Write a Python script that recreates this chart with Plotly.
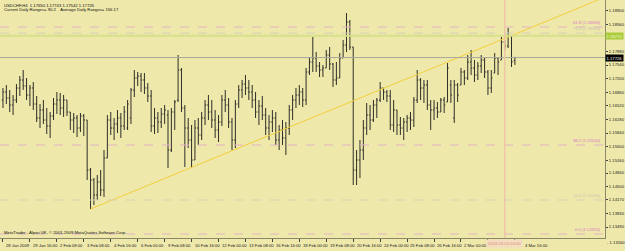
import plotly.graph_objects as go

# ---------------- data (USDCHF, H4) ----------------
high = [1.16965,1.17040,1.16915,1.16790,1.17065,1.17265,1.17415,1.17215,1.17040,1.17115,
        1.16765,1.16565,1.16665,1.16465,1.16365,1.16715,1.16865,1.16840,1.16790,1.16665,
        1.16365,1.16340,1.16290,1.16340,1.16315,1.16165,1.14965,1.14715,1.14790,1.14915,
        1.15415,1.16290,1.16365,1.16215,1.16415,1.16340,1.16515,1.16665,1.16965,1.17415,
        1.17365,1.17340,1.17340,1.17090,1.16915,1.16465,1.16365,1.16465,1.16540,1.16415,
        1.16465,1.16665,1.17790,1.17465,1.16540,1.16215,1.16040,1.16165,1.16215,1.16365,
        1.16665,1.16790,1.16665,1.16415,1.16290,1.16790,1.16915,1.16715,1.16215,1.16665,
        1.17040,1.17165,1.17290,1.17165,1.17040,1.16865,1.16665,1.16765,1.16465,1.16290,
        1.16415,1.16365,1.16040,1.16165,1.16115,1.16540,1.16790,1.16965,1.17040,1.16965,
        1.17465,1.17740,1.18240,1.17865,1.17615,1.17540,1.17915,1.17990,1.17590,1.17615,
        1.17840,1.18165,1.18840,1.18665,1.17990,1.15415,1.15665,1.16165,1.16590,1.16540,
        1.16665,1.16715,1.17115,1.16965,1.16915,1.16915,1.16665,1.16415,1.16240,1.16215,
        1.16290,1.16365,1.16740,1.17415,1.17215,1.17165,1.17165,1.16665,1.16665,1.16615,
        1.16715,1.16740,1.17590,1.17165,1.17165,1.17090,1.17465,1.17415,1.17790,1.17915,
        1.17665,1.17615,1.17790,1.17715,1.17415,1.17415,1.17840,1.17740,1.18240,1.18165,
        1.18465,1.18290,1.17743]
low = [1.16465,1.16565,1.16365,1.16290,1.16590,1.16765,1.16915,1.16665,1.16515,1.16415,
       1.16115,1.15965,1.16065,1.15815,1.15715,1.16165,1.16315,1.16290,1.16240,1.16265,
       1.15915,1.15840,1.15740,1.15865,1.15765,1.14665,1.13940,1.14040,1.14165,1.14265,
       1.14240,1.15215,1.15790,1.15665,1.15840,1.15715,1.15915,1.15915,1.16065,1.16740,
       1.17015,1.16865,1.16815,1.16615,1.15865,1.15815,1.15840,1.15965,1.16065,1.14965,
       1.15365,1.15915,1.16615,1.16365,1.14990,1.15465,1.14965,1.15165,1.15540,1.15665,
       1.16040,1.16165,1.15965,1.15715,1.15615,1.16015,1.16365,1.15965,1.15415,1.15465,
       1.16465,1.16715,1.16790,1.16665,1.16465,1.16215,1.16040,1.16165,1.15790,1.15665,
       1.15865,1.15540,1.15415,1.15540,1.15290,1.15790,1.16165,1.16465,1.16540,1.16490,
       1.16540,1.17290,1.17365,1.17365,1.17240,1.17240,1.17465,1.17415,1.16990,1.17040,
       1.17215,1.17715,1.17865,1.17915,1.14540,1.14540,1.14715,1.15165,1.15790,1.15915,
       1.16115,1.16215,1.16615,1.16665,1.16615,1.15915,1.15865,1.15790,1.15790,1.15665,
       1.15865,1.15915,1.15990,1.16590,1.16665,1.16590,1.16415,1.15915,1.16165,1.16215,
       1.16365,1.16340,1.16615,1.16590,1.16090,1.16615,1.17040,1.17040,1.17165,1.17290,
       1.17115,1.17165,1.17340,1.17215,1.16790,1.16840,1.17340,1.17290,1.17665,1.17915,
       1.17965,1.17490,1.17542]
open_ = [1.16665,1.16865,1.16715,1.16540,1.16665,1.16965,1.17165,1.17015,1.16790,1.16965,
         1.16565,1.16215,1.16415,1.16165,1.16015,1.16265,1.16565,1.16665,1.16465,1.16665,
         1.16365,1.16165,1.16215,1.15965,1.16265,1.16165,1.14915,1.14665,1.14290,1.14615,
         1.14415,1.15215,1.16165,1.15965,1.16065,1.16215,1.16015,1.15965,1.16215,1.16915,
         1.17215,1.17265,1.17165,1.16965,1.16765,1.16015,1.16215,1.16115,1.16315,1.16290,
         1.15415,1.16365,1.16665,1.17415,1.16465,1.15965,1.15665,1.15165,1.15965,1.15790,
         1.16215,1.16540,1.16365,1.16165,1.15915,1.16115,1.16665,1.16540,1.16115,1.15665,
         1.16565,1.16915,1.17065,1.16965,1.16865,1.16665,1.16365,1.16515,1.16290,1.15965,
         1.16115,1.16215,1.15665,1.15915,1.15715,1.15965,1.16415,1.16665,1.16790,1.16865,
         1.16665,1.17365,1.17615,1.17715,1.17515,1.17415,1.17465,1.17790,1.17565,1.17165,
         1.17215,1.17715,1.18040,1.18615,1.17990,1.14915,1.15165,1.15415,1.15965,1.16290,
         1.16165,1.16540,1.16665,1.16965,1.16865,1.16765,1.16040,1.16415,1.16040,1.15965,
         1.16115,1.16215,1.16165,1.16665,1.17165,1.16965,1.17040,1.16540,1.16415,1.16465,
         1.16365,1.16665,1.16615,1.17040,1.16215,1.17040,1.17040,1.17365,1.17215,1.17615,
         1.17465,1.17290,1.17515,1.17665,1.17365,1.16965,1.17340,1.17715,1.17665,1.18115,
         1.18015,1.18265,1.17650]
close = [1.16865,1.16715,1.16540,1.16665,1.16965,1.17165,1.17015,1.16790,1.16965,1.16565,
         1.16215,1.16415,1.16165,1.16015,1.16265,1.16565,1.16665,1.16465,1.16665,1.16365,
         1.16165,1.16215,1.15965,1.16265,1.16165,1.14915,1.14665,1.14290,1.14615,1.14415,
         1.15215,1.16165,1.15965,1.16065,1.16215,1.16015,1.16365,1.16565,1.16915,1.17215,
         1.17265,1.17165,1.16965,1.16765,1.16015,1.16215,1.16115,1.16315,1.16415,1.15415,
         1.16365,1.16615,1.17415,1.16465,1.15965,1.15665,1.15165,1.15965,1.15790,1.16215,
         1.16540,1.16365,1.16165,1.15915,1.16115,1.16665,1.16540,1.16115,1.15665,1.16565,
         1.16915,1.17065,1.16965,1.16865,1.16665,1.16365,1.16515,1.16290,1.15965,1.16115,
         1.16215,1.15665,1.15915,1.15715,1.15965,1.16415,1.16665,1.16790,1.16865,1.16665,
         1.17365,1.17615,1.17715,1.17515,1.17415,1.17465,1.17790,1.17565,1.17165,1.17215,
         1.17715,1.18040,1.18615,1.17990,1.14915,1.15165,1.15415,1.15965,1.16290,1.16165,
         1.16540,1.16665,1.16965,1.16865,1.16765,1.16040,1.16415,1.16040,1.15965,1.16115,
         1.16215,1.16165,1.16665,1.17165,1.16965,1.17040,1.16540,1.16415,1.16465,1.16365,
         1.16665,1.16540,1.17465,1.16790,1.17040,1.16790,1.17365,1.17215,1.17615,1.17465,
         1.17290,1.17515,1.17665,1.17365,1.16965,1.17215,1.17715,1.17615,1.18115,1.18015,
         1.18265,1.17615,1.17726]

date_labels = ["28 Jan 2009", "29 Jan 16:00", "2 Feb 08:00", "3 Feb 08:00", "4 Feb 16:00",
               "6 Feb 00:00", "9 Feb 08:00", "10 Feb 16:00", "12 Feb 00:00", "13 Feb 08:00",
               "16 Feb 16:00", "18 Feb 00:00", "19 Feb 08:00", "20 Feb 16:00", "24 Feb 00:00",
               "25 Feb 08:00", "26 Feb 16:00", "2 Mar 00:00", "3 Mar 08:00", "4 Mar 16:00"]
bars_per_label = 8

price_ticks = [1.18900, 1.18560, 1.17880, 1.17540, 1.17200, 1.16860, 1.16520, 1.16180,
               1.15840, 1.15500, 1.15160, 1.14840, 1.14500, 1.14170, 1.13830, 1.13490]
price_tick_text = ["1.18900", "1.18560", "1.17880", "1.17540", "1.17200", "1.16860",
                   "1.16520", "1.16180", "1.15840", "1.15500", "1.15160", "1.14840", "1.14500",
                   "1.14170", "1.13830", "1.13490"]

fibo_levels = [1.18490, 1.15540, 1.13315]
fibo_texts = ["61.8 (1.18490)", "38.2 (1.15540)", "0.0 (1.13315)"]
faint_levels = [1.18340, 1.14165]
faint_texts = ["76.4 (1.18340)", "23.6 (1.14165)"]
green_level = 1.18270
current_price = 1.17726

trend_bars = [26, 150]
trend_prices = [1.13940, 1.18240]
vline_bar = 149
vline_text = "2009.03.04 04:00"

header1 = "USDCHF,H4  1.17650 1.17743 1.17542 1.17726"
header2 = "Current Daily Ranges= 90.2    Average Daily Ranges= 156.17"
footer = "MetaTrader - Alpari UK, \u00a9 2001-2009 MetaQuotes Software Corp."

# ---------------- styling ----------------
BG = "#EEE8AA"
BAR = "#2f2f29"
AXIS = "#8a8866"
FONT = "Liberation Sans"
FS = 4.2
n = len(high)
xs = list(range(n))
x_range = [-0.885, 178.76]
y_range = [1.13215, 1.19165]
box_half = 5.2   # half width of the vertical-line date box, in bars

fig = go.Figure()
fig.add_trace(go.Ohlc(
    x=xs, open=open_, high=high, low=low, close=close,
    increasing=dict(line=dict(color=BAR, width=1)),
    decreasing=dict(line=dict(color=BAR, width=1)),
    tickwidth=0.35, hoverinfo="skip", showlegend=False))

# trend line (ray to right edge)
slope = (trend_prices[1] - trend_prices[0]) / (trend_bars[1] - trend_bars[0])
x_end = x_range[1] + 1
fig.add_trace(go.Scatter(
    x=[trend_bars[0], x_end],
    y=[trend_prices[0], trend_prices[0] + slope * (x_end - trend_bars[0])],
    mode="lines", line=dict(color="#F2CF3C", width=1), hoverinfo="skip", showlegend=False))

shapes = []
annotations = []
for lv, tx in zip(faint_levels, faint_texts):
    shapes.append(dict(type="line", xref="paper", yref="y", x0=0, x1=1, y0=lv, y1=lv,
                       line=dict(color="#D6D2B8", width=1, dash="dash")))
    annotations.append(dict(xref="paper", yref="y", x=0.997, y=lv, text=tx, showarrow=False,
                            xanchor="right", yanchor="bottom", font=dict(size=FS, color="#C8C4B0", family=FONT)))
for lv, tx in zip(fibo_levels, fibo_texts):
    shapes.append(dict(type="line", xref="paper", yref="y", x0=0, x1=1, y0=lv, y1=lv,
                       line=dict(color="#E2B4C4", width=1, dash="dash")))
    annotations.append(dict(xref="paper", yref="y", x=0.997, y=lv, text=tx, showarrow=False,
                            xanchor="right", yanchor="bottom", font=dict(size=FS, color="#D977C8", family=FONT)))
shapes.append(dict(type="line", xref="paper", yref="y", x0=0, x1=1, y0=green_level, y1=green_level,
                   line=dict(color="#D4E08A", width=2)))
shapes.append(dict(type="line", xref="paper", yref="y", x0=0, x1=1, y0=current_price, y1=current_price,
                   line=dict(color="#A8A89C", width=1)))
shapes.append(dict(type="line", xref="x", yref="paper", x0=vline_bar, x1=vline_bar, y0=0, y1=1,
                   line=dict(color="#EEC6A6", width=1.5)))

# date labels (the one hidden by the vertical-line box is skipped, the one it overlaps starts after it)
for k, lab in enumerate(date_labels):
    xpos = k * bars_per_label + 0.4
    if vline_bar - box_half - 6 < xpos < vline_bar + box_half:
        if xpos < vline_bar:
            continue
        xpos = vline_bar + box_half + 0.3
    annotations.append(dict(xref="x", yref="paper", x=xpos, y=-0.012, text=lab,
                            showarrow=False, xanchor="left", yanchor="top",
                            font=dict(size=FS, color="#222", family=FONT)))
# vertical line date box
annotations.append(dict(xref="x", yref="paper", x=vline_bar, y=-0.006, text=vline_text, showarrow=False,
                        xanchor="center", yanchor="top", bgcolor="#F4DCC0", borderpad=1,
                        font=dict(size=FS, color="#E0907A", family=FONT)))
# axis price labels
annotations.append(dict(xref="paper", yref="y", x=1.0, y=green_level, text="1.18270", showarrow=False,
                        xanchor="left", yanchor="middle", bgcolor="#A8CC3C", borderpad=0.5,
                        font=dict(size=FS, color="#F4F4D0", family=FONT)))
annotations.append(dict(xref="paper", yref="y", x=1.0, y=current_price, text="1.17726", showarrow=False,
                        xanchor="left", yanchor="middle", bgcolor="#000000", borderpad=0.5,
                        font=dict(size=FS, color="#FFFFFF", family=FONT)))
annotations.append(dict(xref="paper", yref="paper", x=1.0, y=-0.018, text="- 1.13160", showarrow=False,
                        xanchor="left", yanchor="middle", font=dict(size=FS, color="#222", family=FONT)))
# header / footer
annotations.append(dict(xref="paper", yref="paper", x=0.003, y=0.997, text=header1, showarrow=False,
                        xanchor="left", yanchor="top", font=dict(size=FS, color="#111", family=FONT)))
annotations.append(dict(xref="paper", yref="paper", x=0.003, y=0.978, text=header2, showarrow=False,
                        xanchor="left", yanchor="top", font=dict(size=FS, color="#111", family=FONT)))
annotations.append(dict(xref="paper", yref="paper", x=0.003, y=0.005, text=footer, showarrow=False,
                        xanchor="left", yanchor="bottom", font=dict(size=FS, color="#111", family=FONT)))

fig.update_layout(
    width=625, height=251,
    margin=dict(l=0, r=16, t=0, b=13),
    paper_bgcolor=BG, plot_bgcolor=BG,
    shapes=shapes, annotations=annotations,
    xaxis=dict(range=x_range, showgrid=False, zeroline=False, showline=True, linecolor=AXIS,
               linewidth=1, ticks="outside", ticklen=3, tickcolor="#444",
               tickvals=[k * bars_per_label for k in range(len(date_labels))],
               showticklabels=False, rangeslider=dict(visible=False)),
    yaxis=dict(range=y_range, side="right", showgrid=False, zeroline=False, showline=True,
               linecolor=AXIS, linewidth=1, ticks="outside", ticklen=2, tickcolor="#444",
               tickvals=price_ticks, ticktext=price_tick_text,
               tickfont=dict(size=FS, color="#222", family=FONT)),
)
fig.write_html("out.html")
